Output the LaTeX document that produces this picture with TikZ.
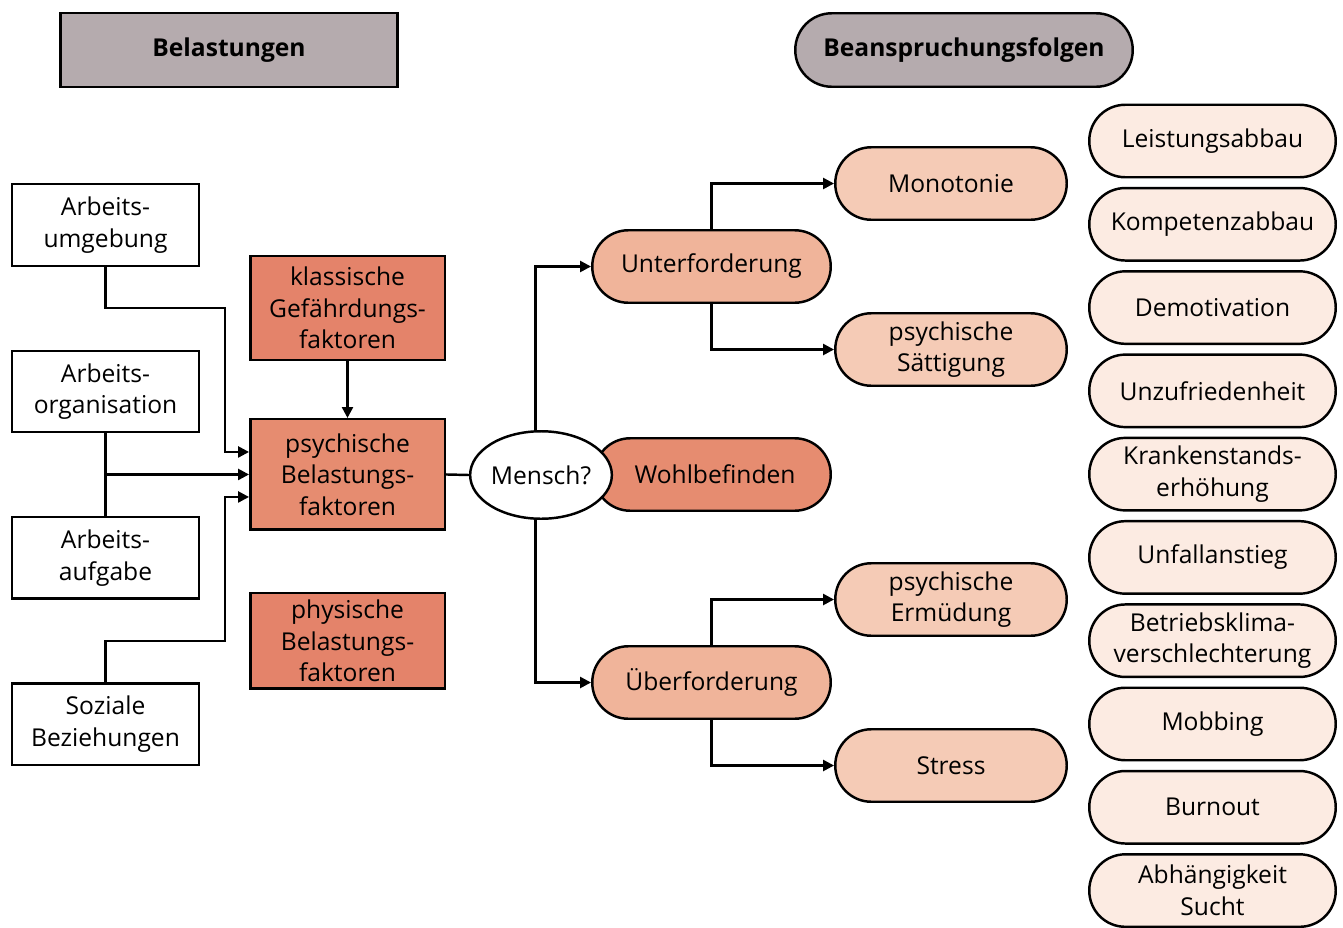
\documentclass[tikz,border=0pt]{standalone}
\usepackage{fontspec}
\setmainfont{Open Sans}
\usetikzlibrary{shapes,arrows.meta}
\definecolor{headgray}{HTML}{B5ABAE}
\definecolor{factordark}{HTML}{E4836A}
\definecolor{factorlight}{HTML}{E68C70}
\definecolor{levelmid}{HTML}{F0B49A}
\definecolor{levellight}{HTML}{F5CBB6}
\definecolor{resultpale}{HTML}{FCEBE2}
\tikzstyle{header} = [draw, line width=1.4pt, fill=headgray, minimum width=6.75cm, minimum height=1.47cm, font=\fontsize{14}{18}\selectfont\bfseries]
\tikzstyle{source} = [draw, rectangle, line width=1.4pt, fill=white, text centered, text width=3.5cm, minimum width=3.73cm, minimum height=1.63cm]
\tikzstyle{factor} = [draw, rectangle, line width=1.4pt, fill=factordark, text centered, text width=3.6cm, minimum width=3.89cm]
\tikzstyle{pill} = [draw, rectangle, line width=1.4pt, rounded corners=0.72cm, text centered, minimum height=1.45cm]
\tikzstyle{level} = [pill, fill=levelmid, minimum width=4.77cm]
\tikzstyle{outcome} = [pill, fill=levellight, minimum width=4.63cm, text width=4.3cm]
\tikzstyle{result} = [pill, fill=resultpale, minimum width=4.93cm, text width=4.6cm, node distance=1.666cm]
\tikzstyle{line} = [draw, line width=1.4pt, -{Triangle[length=2.2mm,width=2.2mm]}]
\tikzstyle{plain} = [draw, line width=1.4pt]

\begin{document}
\begin{tikzpicture}[x=0.02cm, y=-0.02cm, node distance=3.33cm, font=\fontsize{14}{18}\selectfont]
    \useasboundingbox (0,0) rectangle (1343,927);

    % Place nodes
    \node [header] (belast) at (229,50) {Belastungen};
    \node [header, rounded corners=0.73cm] (folgen) at (964,50) {Beanspruchungsfolgen};

    \node [source] (umgebung) at (105.5,225) {Arbeits-\\umgebung};
    \node [source, below of=umgebung] (organisation) {Arbeits-\\organisation};
    \node [source, below of=organisation] (aufgabe) {Arbeits-\\aufgabe};
    \node [source, below of=aufgabe] (sozial) {Soziale\\Beziehungen};

    \node [factor, minimum height=2.07cm] (klassisch) at (347.5,308) {klassische\\Gefährdungs-\\faktoren};
    \node [factor, fill=factorlight, minimum height=2.21cm, below of=klassisch] (psych) {psychische\\Belastungs-\\faktoren};
    \node [factor, minimum height=1.91cm, below of=psych] (physisch) {physische\\Belastungs-\\faktoren};

    \node [pill, fill=factorlight, minimum width=4.73cm] (wohl) at (712.5,474.5) {\hspace*{0.1cm}Wohlbefinden};
    \node [draw, ellipse, line width=1.4pt, fill=white, minimum width=2.81cm, minimum height=1.75cm, inner sep=0pt] (mensch) at (541,475) {Mensch?};

    \node [level] (unter) at (711.5,266.5) {Unterforderung};
    \node [level] (ueber) at (711.5,682.5) {Überforderung};

    \node [outcome] (monotonie) at (951,183.5) {Monotonie};
    \node [outcome] (saettigung) at (951,349.5) {psychische\\Sättigung};
    \node [outcome] (ermuedung) at (951,599.5) {psychische\\Ermüdung};
    \node [outcome] (stress) at (951,765.5) {Stress};

    \node [result] (leistung) at (1212.5,141) {Leistungsabbau};
    \node [result, below of=leistung] (kompetenz) {Kompetenzabbau};
    \node [result, below of=kompetenz] (demotiv) {Demotivation};
    \node [result, below of=demotiv] (unzufrieden) {Unzufriedenheit};
    \node [result, below of=unzufrieden] (krank) {Krankenstands-\\erhöhung};
    \node [result, below of=krank] (unfall) {Unfallanstieg};
    \node [result, below of=unfall] (klima) {Betriebsklima-\\verschlechterung};
    \node [result, below of=klima] (mobbing) {Mobbing};
    \node [result, below of=mobbing] (burnout) {Burnout};
    \node [result, below of=burnout] (sucht) {Abhängigkeit\\Sucht};

    % Helper coordinates for the bends on the left
    \coordinate (bendtop) at (225,308);
    \coordinate (bendbot) at (225,641);
    \coordinate (join) at (organisation.south |- psych.west);

    % Draw edges
    \path [line] (umgebung.south) |- (bendtop) |- ([yshift=0.45cm]psych.west);
    \path [plain] (organisation.south) -- (aufgabe.north);
    \path [line] (join) -- (psych.west);
    \path [line] (sozial.north) |- (bendbot) |- ([yshift=-0.45cm]psych.west);
    \path [line] (klassisch) -- (psych);
    \path [plain] (psych.east) -- (mensch.west);
    \path [line] (mensch.97) |- (unter.west);
    \path [line] (mensch.263) |- (ueber.west);
    \path [line] (unter.north) |- (monotonie.west);
    \path [line] (unter.south) |- (saettigung.west);
    \path [line] (ueber.north) |- (ermuedung.west);
    \path [line] (ueber.south) |- (stress.west);
\end{tikzpicture}
\end{document}
